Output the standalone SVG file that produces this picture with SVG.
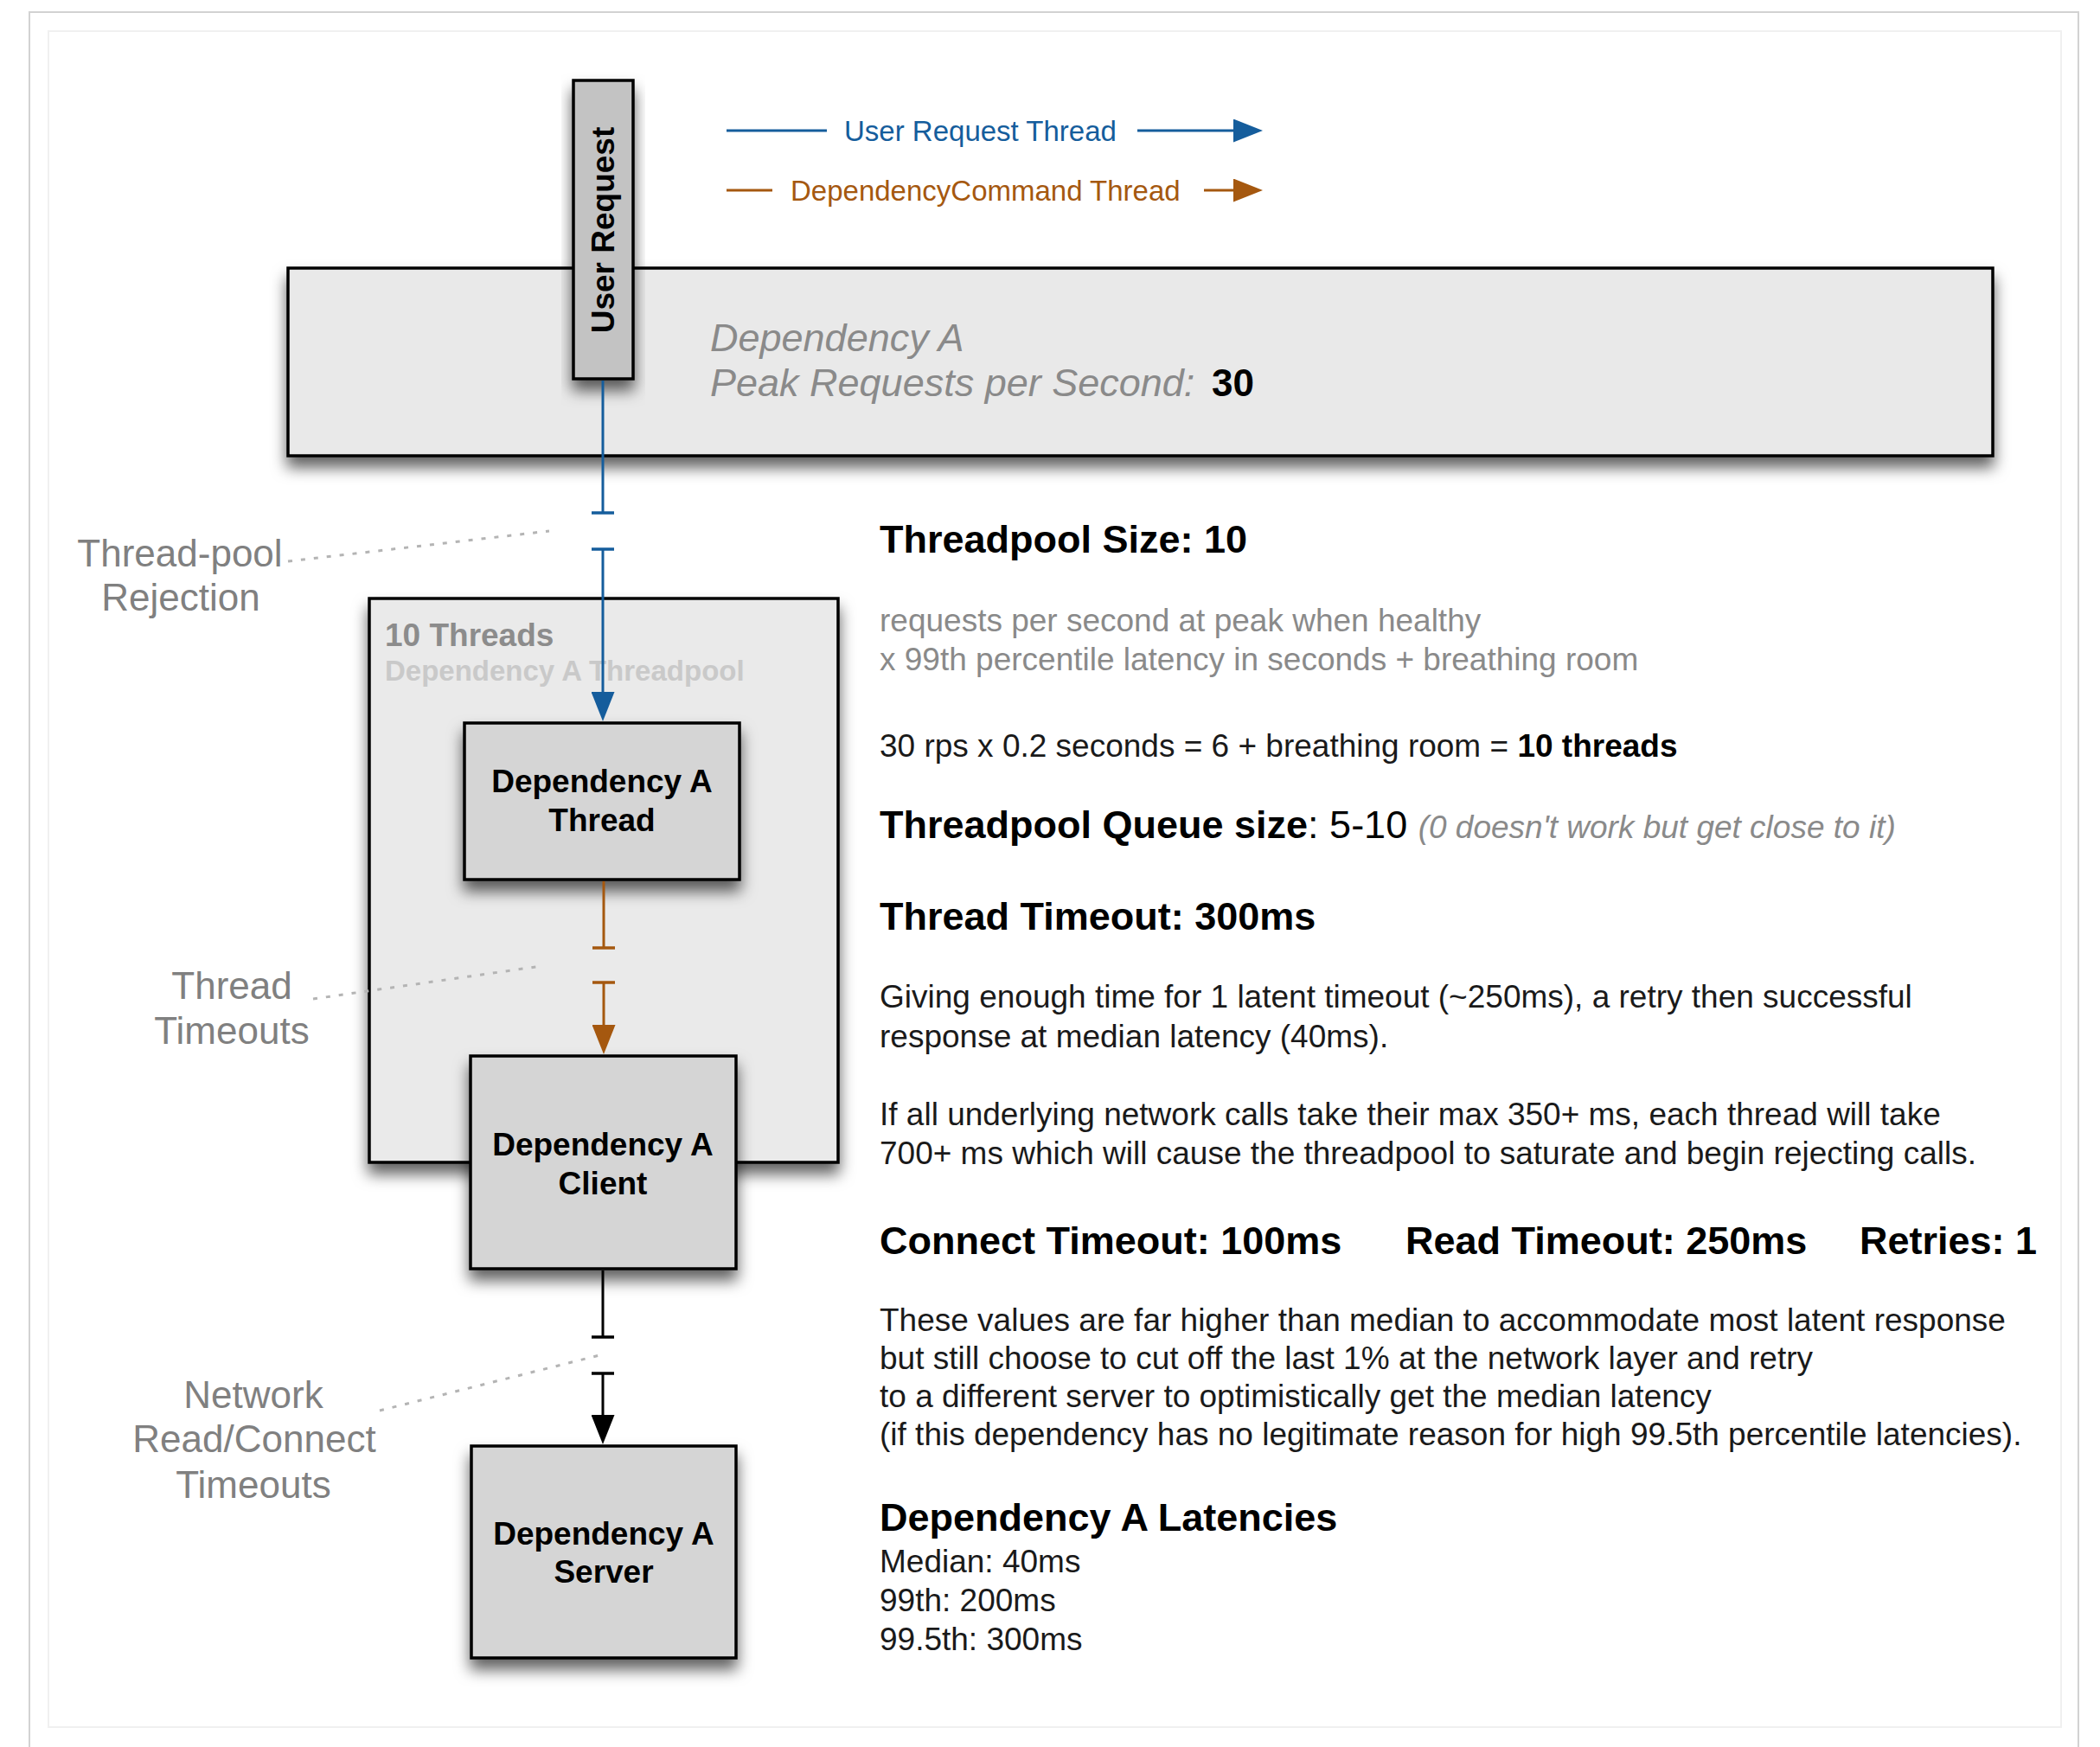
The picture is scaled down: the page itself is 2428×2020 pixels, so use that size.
<svg xmlns="http://www.w3.org/2000/svg" width="2428" height="2020" viewBox="0 0 2428 2020">
  <defs>
    <style>
      text { font-family: "Liberation Sans", Arial, Helvetica, sans-serif; }
      .box { stroke: #000; stroke-width: 3.5; filter: url(#shadow); }
      .node-fill { fill: #d5d5d5; }
      .pool-fill { fill: #eaeaea; }
      .lbl { font-size: 37px; font-weight: bold; fill: #000; text-anchor: middle; }
      .note { font-size: 44px; fill: #808080; text-anchor: middle; }
      .lead { fill: none; stroke: #b4b4b4; stroke-width: 3; stroke-dasharray: 5 10; }
      .h { font-size: 45px; font-weight: bold; fill: #000; }
      .b { font-size: 37px; fill: #1a1a1a; }
      .g { font-size: 37px; fill: #8a8a8a; }
      .wire { fill: none; stroke-width: 3; }
      .blue { stroke: #155d9c; }
      .orange { stroke: #a5580f; }
      .black { stroke: #000; }
    </style>
    <filter id="shadow" x="-20%" y="-20%" width="140%" height="160%">
      <feDropShadow dx="0" dy="12" stdDeviation="8.5" flood-color="#000" flood-opacity="0.62"/>
    </filter>
    <filter id="soft" x="-200%" y="-1%" width="500%" height="102%">
      <feGaussianBlur stdDeviation="1.2"/>
    </filter>
    <!-- arrowheads: tip sits 33px past the end of the line -->
    <marker id="arrow-blue" markerUnits="userSpaceOnUse" viewBox="0 0 34 27" markerWidth="34" markerHeight="27" refX="1" refY="13.5" orient="auto">
      <path d="M0,0 L34,13.5 L0,27 z" fill="#155d9c"/>
    </marker>
    <marker id="arrow-orange" markerUnits="userSpaceOnUse" viewBox="0 0 34 27" markerWidth="34" markerHeight="27" refX="1" refY="13.5" orient="auto">
      <path d="M0,0 L34,13.5 L0,27 z" fill="#a5580f"/>
    </marker>
    <marker id="arrow-black" markerUnits="userSpaceOnUse" viewBox="0 0 34 27" markerWidth="34" markerHeight="27" refX="1" refY="13.5" orient="auto">
      <path d="M0,0 L34,13.5 L0,27 z" fill="#000"/>
    </marker>
    <!-- cut marks across a broken connector -->
    <marker id="tee-blue" markerUnits="userSpaceOnUse" viewBox="0 0 4 26" markerWidth="4" markerHeight="26" refX="2" refY="13" orient="auto">
      <path d="M2,0 V26" stroke="#155d9c" stroke-width="3.5"/>
    </marker>
    <marker id="tee-orange" markerUnits="userSpaceOnUse" viewBox="0 0 4 26" markerWidth="4" markerHeight="26" refX="2" refY="13" orient="auto">
      <path d="M2,0 V26" stroke="#a5580f" stroke-width="3.5"/>
    </marker>
    <marker id="tee-black" markerUnits="userSpaceOnUse" viewBox="0 0 4 26" markerWidth="4" markerHeight="26" refX="2" refY="13" orient="auto">
      <path d="M2,0 V26" stroke="#000" stroke-width="3.5"/>
    </marker>
  </defs>

  <!-- page -->
  <g id="page">
    <rect x="0" y="0" width="2428" height="2020" fill="#fff"/>
    <rect x="34" y="14" width="2369" height="2030" fill="#fff" stroke="#d2d2d2" stroke-width="2"/>
    <line x1="32" y1="15" x2="32" y2="2020" stroke="#7a7a7a" stroke-width="4" filter="url(#soft)"/>
    <line x1="2403" y1="15" x2="2403" y2="2020" stroke="#7a7a7a" stroke-width="4" filter="url(#soft)"/>
    <rect x="56" y="36" width="2327" height="1961" fill="none" stroke="#f0f0f0" stroke-width="2"/>
  </g>

  <!-- legend -->
  <g id="legend">
    <line x1="840" y1="151" x2="956" y2="151" class="wire blue" stroke-width="3.5"/>
    <text x="976" y="163" font-size="33" fill="#155d9c">User Request Thread</text>
    <line x1="1315" y1="151" x2="1427" y2="151" class="wire blue" stroke-width="3.5" marker-end="url(#arrow-blue)"/>
    <line x1="840" y1="220" x2="893" y2="220" class="wire orange" stroke-width="3.5"/>
    <text x="914" y="232" font-size="33" fill="#a5580f">DependencyCommand Thread</text>
    <line x1="1392" y1="220" x2="1427" y2="220" class="wire orange" stroke-width="3.5" marker-end="url(#arrow-orange)"/>
  </g>

  <!-- Dependency A peak load -->
  <g id="dependency-a">
    <rect x="333" y="310" width="1971" height="217" fill="#e9e9e9" class="box"/>
    <text x="821" y="406" font-size="45" font-style="italic" fill="#8a8a8a">Dependency A</text>
    <text x="821" y="458" font-size="45" font-style="italic" fill="#8a8a8a">Peak Requests per Second:</text>
    <text x="1401" y="458" font-size="44" font-weight="bold" fill="#000">30</text>
  </g>

  <!-- user request -->
  <g id="user-request">
    <rect x="663" y="93" width="69" height="345" fill="#c3c3c3" class="box"/>
    <text transform="translate(710 266) rotate(-90)" class="lbl">User Request</text>
  </g>

  <!-- thread pool -->
  <g id="threadpool">
    <rect x="427" y="692" width="542" height="652" class="box pool-fill"/>
    <text x="445" y="747" font-size="37" font-weight="bold" fill="#8c8c8c">10 Threads</text>
    <text x="445" y="787" font-size="33" font-weight="bold" fill="#c9c9c9">Dependency A Threadpool</text>
  </g>

  <g id="dep-thread">
    <rect x="537" y="836" width="318" height="181" class="box node-fill"/>
    <text x="696" y="916" class="lbl">Dependency A</text>
    <text x="696" y="961" class="lbl">Thread</text>
  </g>

  <g id="dep-client">
    <rect x="544" y="1221" width="307" height="246" class="box node-fill"/>
    <text x="697" y="1336" class="lbl">Dependency A</text>
    <text x="697" y="1381" class="lbl">Client</text>
  </g>

  <g id="dep-server">
    <rect x="545" y="1672" width="306" height="245" class="box node-fill"/>
    <text x="698" y="1786" class="lbl">Dependency A</text>
    <text x="698" y="1830" class="lbl">Server</text>
  </g>

  <!-- connectors -->
  <g id="connectors">
    <line x1="697" y1="440" x2="697" y2="593" class="wire blue" marker-end="url(#tee-blue)"/>
    <line x1="697" y1="635" x2="697" y2="801" class="wire blue" marker-start="url(#tee-blue)" marker-end="url(#arrow-blue)"/>
    <line x1="698" y1="1019" x2="698" y2="1096" class="wire orange" marker-end="url(#tee-orange)"/>
    <line x1="698" y1="1136" x2="698" y2="1186" class="wire orange" marker-start="url(#tee-orange)" marker-end="url(#arrow-orange)"/>
    <line x1="697" y1="1469" x2="697" y2="1546" class="wire black" marker-end="url(#tee-black)"/>
    <line x1="697" y1="1588" x2="697" y2="1637" class="wire black" marker-start="url(#tee-black)" marker-end="url(#arrow-black)"/>
  </g>

  <!-- failure point annotations -->
  <g id="annotations">
    <line x1="333" y1="649" x2="635" y2="614" class="lead"/>
    <text x="208" y="655" class="note">Thread-pool</text>
    <text x="209" y="706" class="note">Rejection</text>
    <line x1="362" y1="1155" x2="626" y2="1117" class="lead"/>
    <text x="268" y="1155" class="note">Thread</text>
    <text x="268" y="1207" class="note">Timeouts</text>
    <line x1="439" y1="1631" x2="697" y2="1566" class="lead"/>
    <text x="293" y="1628" class="note">Network</text>
    <text x="294" y="1679" class="note">Read/Connect</text>
    <text x="293" y="1732" class="note">Timeouts</text>
  </g>

  <!-- configuration notes -->
  <g id="notes">
    <text x="1017" y="639" class="h">Threadpool Size: 10</text>
    <text x="1017" y="730" class="g">requests per second at peak when healthy</text>
    <text x="1017" y="775" class="g">x 99th percentile latency in seconds + breathing room</text>
    <text x="1017" y="875" class="b">30 rps x 0.2 seconds = 6 + breathing room = <tspan font-weight="bold" fill="#000">10 threads</tspan></text>
    <text x="1017" y="969" class="h">Threadpool Queue size<tspan font-weight="normal">: 5-10 </tspan><tspan font-weight="normal" font-style="italic" font-size="37" fill="#8a8a8a">(0 doesn't work but get close to it)</tspan></text>

    <text x="1017" y="1075" class="h">Thread Timeout: 300ms</text>
    <text x="1017" y="1165" class="b">Giving enough time for 1 latent timeout (~250ms), a retry then successful</text>
    <text x="1017" y="1211" class="b">response at median latency (40ms).</text>
    <text x="1017" y="1301" class="b">If all underlying network calls take their max 350+ ms, each thread will take</text>
    <text x="1017" y="1346" class="b">700+ ms which will cause the threadpool to saturate and begin rejecting calls.</text>

    <text x="1017" y="1450" class="h">Connect Timeout: 100ms</text>
    <text x="1625" y="1450" class="h">Read Timeout: 250ms</text>
    <text x="2150" y="1450" class="h">Retries: 1</text>
    <text x="1017" y="1539" class="b">These values are far higher than median to accommodate most latent response</text>
    <text x="1017" y="1583" class="b">but still choose to cut off the last 1% at the network layer and retry</text>
    <text x="1017" y="1627" class="b">to a different server to optimistically get the median latency</text>
    <text x="1017" y="1671" class="b">(if this dependency has no legitimate reason for high 99.5th percentile latencies).</text>

    <text x="1017" y="1770" class="h">Dependency A Latencies</text>
    <text x="1017" y="1818" class="b">Median: 40ms</text>
    <text x="1017" y="1863" class="b">99th: 200ms</text>
    <text x="1017" y="1908" class="b">99.5th: 300ms</text>
  </g>
</svg>
